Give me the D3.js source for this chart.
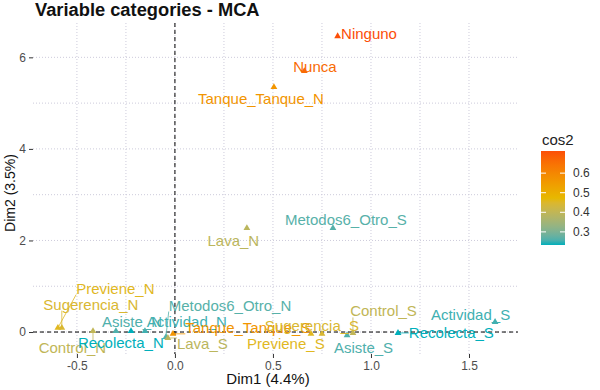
<!DOCTYPE html>
<html>
<head>
<meta charset="utf-8">
<script src="https://cdn.jsdelivr.net/npm/d3@7"></script>
<style>
  html, body { margin: 0; padding: 0; background: #fff; }
  svg { display: block; font-family: "Liberation Sans", Arial, sans-serif; }
</style>
</head>
<body>
<div id="chart"></div>
<script>
// MCA variable categories
const categories = [
  "Ninguno", "Nunca", "Tanque_Tanque_N", "Lava_N", "Metodos6_Otro_S",
  "Previene_N", "Sugerencia_N", "Control_N", "Asiste_N", "Recolecta_N",
  "Actividad_N", "Metodos6_Otro_N", "Lava_S", "Tanque_Tanque_S",
  "Previene_S", "Sugerencia_S", "Asiste_S", "Control_S", "Recolecta_S", "Actividad_S"
]
const dim1 = [0.83, 0.66, 0.505, 0.367, 0.806, -0.597, -0.577, -0.418, -0.301, -0.224,
  -0.153, -0.046, -0.036, -0.01, 0.694, 0.75, 0.878, 0.908, 1.138, 1.633]
const dim2 = [6.46, 5.70, 5.35, 2.27, 2.27, 0.09, 0.09, 0.02, 0.02, 0.02,
  0.02, -0.11, -0.13, -0.04, -0.04, -0.04, -0.07, -0.02, -0.02, 0.22]
const cos2 = [0.713, 0.66, 0.565, 0.39, 0.265, 0.46, 0.445, 0.40, 0.26, 0.233,
  0.25, 0.265, 0.39, 0.565, 0.46, 0.445, 0.26, 0.40, 0.233, 0.25]

// where the repelled labels ended up (data units, label centre)
const labelDim1 = [0.99, 0.714, 0.439, 0.298, 0.872, -0.304, -0.429, -0.523, -0.219, -0.276,
  0.061, 0.281, 0.14, 0.372, 0.566, 0.699, 0.962, 1.064, 1.41, 1.508]
const labelDim2 = [6.53, 5.81, 5.11, 2.01, 2.45, 0.96, 0.61, -0.33, 0.22, -0.22,
  0.22, 0.59, -0.26, 0.09, -0.26, 0.15, -0.33, 0.46, -0.02, 0.39]

const xTicks = [-0.5, 0, 0.5, 1, 1.5]
const xMinor = [-0.25, 0.25, 0.75, 1.25]
const yTicks = [0, 2, 4, 6]
const yMinor = [1, 3, 5]
const legendTicks = [0.3, 0.4, 0.5, 0.6]
const gradientCols = ["#00AFBB", "#E7B800", "#FC4E07"]

const width = 600
const height = 390
const panel = { left: 33, right: 518, top: 23, bottom: 354 }

const svg = d3.select("#chart").append("svg")
  .attr("width", width)
  .attr("height", height)

const x = d3.scaleLinear().domain([-0.724, 1.75]).range([panel.left, panel.right])
const y = d3.scaleLinear().domain([-0.48, 6.75]).range([panel.bottom, panel.top])

const [cMin, cMax] = d3.extent(cos2)
const color = d3.scaleLinear()
  .domain([cMin, (cMin + cMax) / 2, cMax])
  .range(gradientCols)
  .interpolate(d3.interpolateLab)

// grid, dotted like the factoextra theme
const grid = svg.append("g")
  .attr("stroke", "#cdcbdb")
  .attr("stroke-width", 1)
  .attr("stroke-dasharray", "1,2")
xTicks.concat(xMinor).forEach(v => {
  grid.append("line")
    .attr("x1", x(v)).attr("x2", x(v))
    .attr("y1", panel.top).attr("y2", panel.bottom)
})
yTicks.concat(yMinor).forEach(v => {
  grid.append("line")
    .attr("x1", panel.left).attr("x2", panel.right)
    .attr("y1", y(v)).attr("y2", y(v))
})

// axes: ticks + labels only
const xAxis = svg.append("g")
  .attr("transform", `translate(0,${panel.bottom})`)
  .call(d3.axisBottom(x).tickValues(xTicks).tickFormat(d3.format(".1f")).tickSize(4).tickPadding(3))
xAxis.select(".domain").remove()
xAxis.selectAll("line").attr("stroke", "#333")
xAxis.selectAll("text").attr("fill", "#4d4d4d").attr("font-size", "12px")
  .attr("font-family", "Liberation Sans, Arial, sans-serif")
  .text(d => d3.format(".1f")(d).replace("−", "-"))

const yAxis = svg.append("g")
  .attr("transform", `translate(${panel.left},0)`)
  .call(d3.axisLeft(y).tickValues(yTicks).tickFormat(d3.format("d")).tickSize(4).tickPadding(3))
yAxis.select(".domain").remove()
yAxis.selectAll("line").attr("stroke", "#333")
yAxis.selectAll("text").attr("fill", "#4d4d4d").attr("font-size", "12px")
  .attr("font-family", "Liberation Sans, Arial, sans-serif")

// zero lines
svg.append("line")
  .attr("x1", panel.left).attr("x2", panel.right)
  .attr("y1", y(0)).attr("y2", y(0))
  .attr("stroke", "#000").attr("stroke-width", 1).attr("stroke-dasharray", "4,3")
svg.append("line")
  .attr("x1", x(0)).attr("x2", x(0))
  .attr("y1", panel.top).attr("y2", panel.bottom)
  .attr("stroke", "#000").attr("stroke-width", 1).attr("stroke-dasharray", "4,3")

// points
const triangle = d3.symbol().type(d3.symbolTriangle).size(20)
categories.forEach((c, i) => {
  svg.append("path")
    .attr("d", triangle)
    .attr("transform", `translate(${x(dim1[i])},${y(dim2[i])})`)
    .attr("fill", color(cos2[i]))
})

// labels with repel segments
const segs = svg.append("g")
const labels = svg.append("g")
categories.forEach((c, i) => {
  const px = x(dim1[i])
  const py = y(dim2[i])
  const t = labels.append("text")
    .attr("x", x(labelDim1[i]))
    .attr("y", y(labelDim2[i]))
    .attr("text-anchor", "middle")
    .attr("dominant-baseline", "central")
    .attr("font-size", "15px")
    .attr("fill", color(cos2[i]))
    .text(c)
  const b = t.node().getBBox()
  const bx = Math.max(b.x, Math.min(px, b.x + b.width))
  const by = Math.max(b.y + 2, Math.min(py, b.y + b.height - 2))
  if (Math.hypot(bx - px, by - py) > 7) {
    segs.append("line")
      .attr("x1", px).attr("y1", py)
      .attr("x2", bx).attr("y2", by)
      .attr("stroke", color(cos2[i]))
      .attr("stroke-width", 0.8)
  }
})

// titles
svg.append("text")
  .attr("x", 35).attr("y", 16)
  .attr("font-size", "18.3px")
  .attr("font-weight", "bold")
  .attr("fill", "#111")
  .text("Variable categories - MCA")

svg.append("text")
  .attr("x", 268).attr("y", 384)
  .attr("text-anchor", "middle")
  .attr("font-size", "15px")
  .attr("fill", "#111")
  .text("Dim1 (4.4%)")

svg.append("text")
  .attr("transform", `translate(15,193) rotate(-90)`)
  .attr("text-anchor", "middle")
  .attr("font-size", "14px")
  .attr("fill", "#111")
  .text("Dim2 (3.5%)")

// legend
const lg = { x: 541, top: 151, bottom: 245, w: 24 }
const ly = d3.scaleLinear().domain([cMin, cMax]).range([lg.bottom, lg.top])
const defs = svg.append("defs")
const grad = defs.append("linearGradient")
  .attr("id", "cosGrad")
  .attr("x1", 0).attr("y1", 1).attr("x2", 0).attr("y2", 0)
d3.range(0, 1.0001, 0.05).forEach(f => {
  grad.append("stop")
    .attr("offset", f)
    .attr("stop-color", color(cMin + f * (cMax - cMin)))
})
svg.append("rect")
  .attr("x", lg.x).attr("y", lg.top)
  .attr("width", lg.w).attr("height", lg.bottom - lg.top)
  .attr("fill", "url(#cosGrad)")

legendTicks.forEach(v => {
  svg.append("line")
    .attr("x1", lg.x).attr("x2", lg.x + 5)
    .attr("y1", ly(v)).attr("y2", ly(v))
    .attr("stroke", "#fff")
  svg.append("line")
    .attr("x1", lg.x + lg.w - 5).attr("x2", lg.x + lg.w)
    .attr("y1", ly(v)).attr("y2", ly(v))
    .attr("stroke", "#fff")
  svg.append("text")
    .attr("x", lg.x + lg.w + 8)
    .attr("y", ly(v) + 4)
    .attr("font-size", "12px")
    .attr("fill", "#333")
    .text(v.toFixed(1))
})

svg.append("text")
  .attr("x", lg.x + 1).attr("y", 145)
  .attr("font-size", "15px")
  .attr("fill", "#222")
  .text("cos2")
</script>
</body>
</html>
